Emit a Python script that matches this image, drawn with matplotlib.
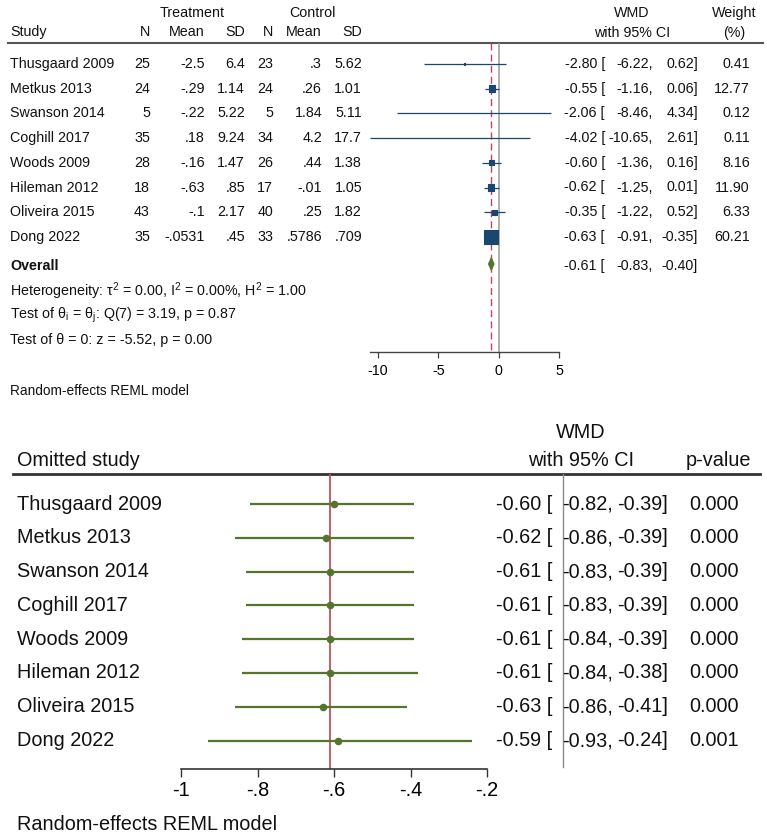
import matplotlib
matplotlib.use("Agg")
from matplotlib import pyplot as plt
from matplotlib.patches import Polygon

plt.rcParams["font.family"] = ["Liberation Sans", "DejaVu Sans"]
plt.rcParams["mathtext.fontset"] = "custom"
plt.rcParams["mathtext.rm"] = "Liberation Sans"
plt.rcParams["mathtext.it"] = "Liberation Sans:italic"

# ---- data: forest plot ----
studies = ["Thusgaard 2009", "Metkus 2013", "Swanson 2014", "Coghill 2017",
           "Woods 2009", "Hileman 2012", "Oliveira 2015", "Dong 2022"]
n_t = [25, 24, 5, 35, 28, 18, 43, 35]
mean_t = [-2.5, -0.29, -0.22, 0.18, -0.16, -0.63, -0.1, -0.0531]
sd_t = [6.4, 1.14, 5.22, 9.24, 1.47, 0.85, 2.17, 0.45]
n_c = [23, 24, 5, 34, 26, 17, 40, 33]
mean_c = [0.3, 0.26, 1.84, 4.2, 0.44, -0.01, 0.25, 0.5786]
sd_c = [5.62, 1.01, 5.11, 17.7, 1.38, 1.05, 1.82, 0.709]
wmd = [-2.80, -0.55, -2.06, -4.02, -0.60, -0.62, -0.35, -0.63]
wmd_lo = [-6.22, -1.16, -8.46, -10.65, -1.36, -1.25, -1.22, -0.91]
wmd_hi = [0.62, 0.06, 4.34, 2.61, 0.16, 0.01, 0.52, -0.35]
weight = [0.41, 12.77, 0.12, 0.11, 8.16, 11.90, 6.33, 60.21]
overall_es, overall_lo, overall_hi = -0.61, -0.83, -0.40
top_ticks = [-10, -5, 0, 5]

# ---- data: leave-one-out ----
loo_es = [-0.60, -0.62, -0.61, -0.61, -0.61, -0.61, -0.63, -0.59]
loo_lo = [-0.82, -0.86, -0.83, -0.83, -0.84, -0.84, -0.86, -0.93]
loo_hi = [-0.39, -0.39, -0.39, -0.39, -0.39, -0.38, -0.41, -0.24]
loo_p = [0.000, 0.000, 0.000, 0.000, 0.000, 0.000, 0.000, 0.001]
loo_ticks = [-1, -0.8, -0.6, -0.4, -0.2]

NAVY = "#1A476F"
GREEN = "#55752F"
W, H = 767, 839


def stata_num(v):
    s = repr(float(v)) if not float(v).is_integer() else str(v)
    if s.startswith("0."):
        s = s[1:]
    elif s.startswith("-0."):
        s = "-" + s[2:]
    return s


def tick_lab(v):
    if float(v).is_integer():
        return str(int(v))
    return stata_num(round(v, 2))


fig = plt.figure(figsize=(W / 100, H / 100), dpi=100)
ov = fig.add_axes([0, 0, 1, 1])
ov.set_xlim(0, W)
ov.set_ylim(H, 0)
ov.axis("off")


def txt(x, y, s, size=10.3, ha="left", **kw):
    ov.text(x, y, s, fontsize=size, ha=ha, va="center", color="#111111", **kw)


def px_axes(left, top, right, bottom):
    return fig.add_axes([left / W, (H - bottom) / H, (right - left) / W, (bottom - top) / H])


# ================= top panel =================
txt(192, 13, "Treatment", ha="center")
txt(312, 13, "Control", ha="center")
txt(10, 32, "Study")
for x, s in [(150, "N"), (205, "Mean"), (245, "SD"), (273, "N"), (322, "Mean"), (362, "SD")]:
    txt(x, 32, s, ha="right")
txt(632, 13, "WMD", ha="center")
txt(632, 33, "with 95% CI", ha="center")
txt(734, 13, "Weight", ha="center")
txt(734, 33, "(%)", ha="center")
ov.plot([8, 763], [43, 43], color="#555555", lw=1.5)

row0, step = 64, 24.7
for i, name in enumerate(studies):
    y = row0 + step * i
    txt(10, y, name)
    txt(150, y, str(n_t[i]), ha="right")
    txt(205, y, stata_num(mean_t[i]), ha="right")
    txt(245, y, stata_num(sd_t[i]), ha="right")
    txt(273, y, str(n_c[i]), ha="right")
    txt(322, y, stata_num(mean_c[i]), ha="right")
    txt(362, y, stata_num(sd_c[i]), ha="right")
    txt(605, y, f"{wmd[i]:.2f} [", ha="right")
    txt(653, y, f"{wmd_lo[i]:.2f},", ha="right")
    txt(698, y, f"{wmd_hi[i]:.2f}]", ha="right")
    txt(750, y, f"{weight[i]:.2f}", ha="right")

y_ov = 266
txt(10, y_ov, "Overall", fontweight="bold")
txt(605, y_ov, f"{overall_es:.2f} [", ha="right")
txt(653, y_ov, f"{overall_lo:.2f},", ha="right")
txt(698, y_ov, f"{overall_hi:.2f}]", ha="right")
txt(10, 291, r"Heterogeneity: τ$^\mathregular{2}$ = 0.00, I$^\mathregular{2}$ = 0.00%, H$^\mathregular{2}$ = 1.00")
txt(10, 315, r"Test of θ$_\mathregular{i}$ = θ$_\mathregular{j}$: Q(7) = 3.19, p = 0.87")
txt(10, 340, "Test of θ = 0: z = -5.52, p = 0.00")
txt(10, 391, "Random-effects REML model", size=9.8)

# forest axes: -10 at px 378, 5 at px 559
ppu = (559 - 378) / 15
ax1 = px_axes(378 - 0.65 * ppu, 43, 559, 352)
ax1.set_xlim(-10.65, 5)
ax1.set_ylim((352 - row0) / step, (43 - row0) / step)
for sp in ["top", "left", "right"]:
    ax1.spines[sp].set_visible(False)
ax1.spines["bottom"].set_color("#444444")
ax1.spines["bottom"].set_linewidth(1.0)
ax1.set_yticks([])
ax1.set_xticks(top_ticks)
ax1.set_xticklabels([tick_lab(t) for t in top_ticks])
ax1.tick_params(axis="x", length=4.5, width=0.9, color="#444444", labelsize=10.3, pad=4)
ax1.patch.set_alpha(0)

ax1.axvline(0, color="#9a9a9a", lw=1.1, zorder=1)
ax1.axvline(overall_es, ymin=0.008, color="#B84860", lw=1.0, ls=(0, (5, 3)), zorder=1)
rows = list(range(len(studies)))
ax1.hlines(rows, wmd_lo, wmd_hi, color=NAVY, lw=0.9, zorder=2)
sizes = [(1.85 * w ** 0.5 * 0.72) ** 2 for w in weight]
edges = [0.8 if w > 0.3 else 0 for w in weight]
ax1.scatter(wmd, rows, s=sizes, marker="s", color=NAVY, edgecolors=NAVY, linewidths=edges, zorder=3)
r_ov = (264 - row0) / step
h = 6 / step
ax1.add_patch(Polygon([(overall_lo, r_ov), (overall_es, r_ov - h), (overall_hi, r_ov), (overall_es, r_ov + h)],
                      closed=True, color=GREEN, zorder=3))

# ================= bottom panel =================
BS = 14.3
txt(17, 460, "Omitted study", size=BS)
txt(581, 432, "WMD", size=BS, ha="center")
txt(581, 461, "with 95% CI", size=BS, ha="center")
txt(718, 461, "p-value", size=BS, ha="center")
ov.plot([13, 760], [474, 474], color="#333333", lw=2.0)
ov.plot([562.7, 562.7], [474, 767], color="#8a8a8a", lw=1.0)

b0, bstep = 504, 33.8
for i, name in enumerate(studies):
    y = b0 + bstep * i
    txt(17, y, name, size=BS)
    txt(552, y, f"{loo_es[i]:.2f} [", size=BS, ha="right")
    txt(613, y, f"{loo_lo[i]:.2f},", size=BS, ha="right")
    txt(668, y, f"{loo_hi[i]:.2f}]", size=BS, ha="right")
    txt(739, y, f"{loo_p[i]:.3f}", size=BS, ha="right")
txt(17, 824, "Random-effects REML model", size=BS)

ax2 = px_axes(181, 474, 487, 769)
ax2.set_xlim(-1, -0.2)
ax2.set_ylim((769 - b0) / bstep, (474 - b0) / bstep)
for sp in ["top", "left", "right"]:
    ax2.spines[sp].set_visible(False)
ax2.spines["bottom"].set_color("#333333")
ax2.spines["bottom"].set_linewidth(1.2)
ax2.set_yticks([])
ax2.set_xticks(loo_ticks)
ax2.set_xticklabels([tick_lab(t) for t in loo_ticks])
ax2.tick_params(axis="x", length=6, width=1.0, color="#333333", labelsize=BS, pad=3)
ax2.patch.set_alpha(0)

ax2.axvline(overall_es, color="#C0505F", lw=1.3, zorder=1)
ax2.hlines(rows, loo_lo, loo_hi, color=GREEN, lw=1.6, zorder=2)
ax2.scatter(loo_es, rows, s=30, color=GREEN, linewidths=0, zorder=3)

fig.savefig("out.png", dpi=100)
